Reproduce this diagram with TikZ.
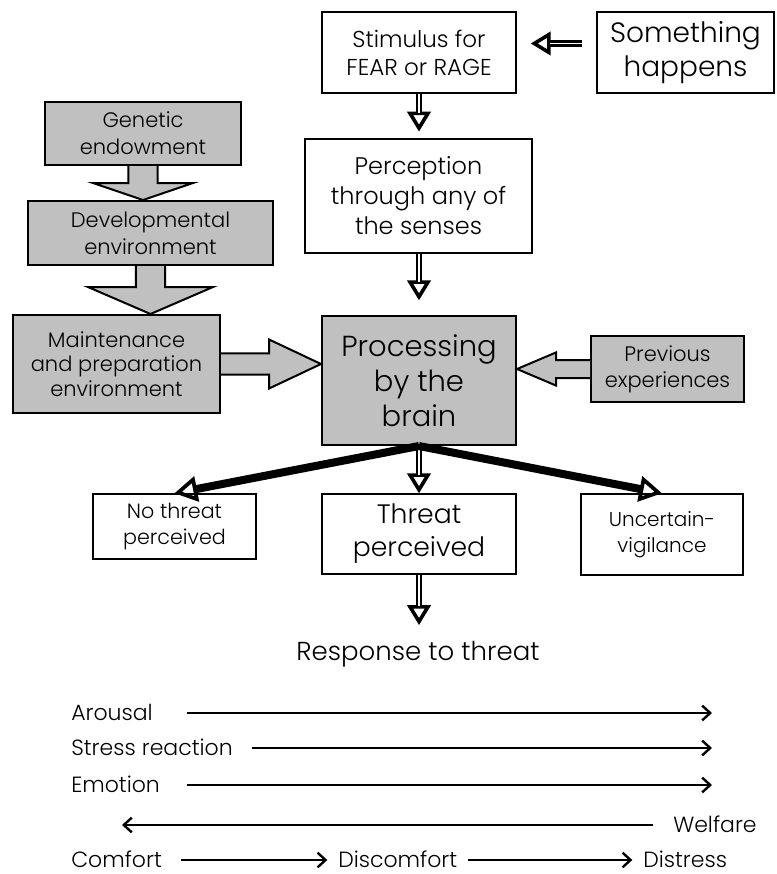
\documentclass[tikz,border=0pt]{standalone}
\usepackage{fontspec}
\IfFontExistsTF{Poppins Light}{\setmainfont{Poppins Light}}{\setmainfont{Poppins}}
\usetikzlibrary{arrows.meta,calc}
\definecolor{silver}{RGB}{192,192,192}

% gray block arrow pointing down: from, to, shaft half width, head half width, head length (pt)
\newcommand\blockv[5]{%
  \filldraw[blockarrow] let \p1=(#1), \p2=(#2) in
    ({\x1-#3pt},\y1) -- ({\x1-#3pt},{\y2+#5pt}) -- ({\x1-#4pt},{\y2+#5pt}) -- (\x2,\y2)
    -- ({\x1+#4pt},{\y2+#5pt}) -- ({\x1+#3pt},{\y2+#5pt}) -- ({\x1+#3pt},\y1);}
% gray block arrow, horizontal: last argument is the signed offset of the head base from the tip
\newcommand\blockh[5]{%
  \filldraw[blockarrow] let \p1=(#1), \p2=(#2), \n1={#5} in
    (\x1,{\y1+#3pt}) -- ({\x2+\n1*1pt},{\y1+#3pt}) -- ({\x2+\n1*1pt},{\y1+#4pt}) -- (\x2,\y2)
    -- ({\x2+\n1*1pt},{\y1-#4pt}) -- ({\x2+\n1*1pt},{\y1-#3pt}) -- (\x1,{\y1-#3pt});}

\tikzset{
  box/.style={draw, line width=1.1pt, fill=white, align=center, inner sep=0pt},
  graybox/.style={box, fill=silver, line width=1.5pt},
  fs/.style 2 args={font=\fontsize{#1pt}{#2pt}\selectfont},
  blockarrow/.style={fill=silver, draw=black, line width=1.5pt, line join=miter},
  hollowhead/.style={line width=2.2pt, -{Triangle[open, length=15pt, width=17.5pt, line width=2.7pt]}},
  hollowshaft/.style={line width=2.1pt, double=white, double distance=0.9pt},
  thickarrow/.style={line width=6pt, -{Triangle[open, length=17pt, width=19pt, line width=2.8pt]}},
  scalearrow/.style={line width=1.6pt, -{Straight Barb[length=6pt, width=11pt, line width=1.8pt]}},
  lbl/.style={fs={16.5}{20}, inner sep=0pt, text height=11.8pt, text depth=0pt},
}

\begin{document}
\begin{tikzpicture}[x=0.75pt, y=-0.75pt]
\useasboundingbox (0,0) rectangle (776,874);

% ---- boxes of the flow chart
\node[box, fs={17.25}{21}, minimum width=145.5pt, minimum height=60.75pt] (stim) at (419,52.5) {Stimulus for\\FEAR or RAGE};
\node[box, fs={21}{26}, minimum width=132.75pt, minimum height=60.75pt] (some) at (685.5,52.5) {Something\\happens};
\node[box, fs={18}{22.5}, minimum width=170.25pt, minimum height=85.5pt] (perc) at (418.5,196) {Perception\\through any of\\the senses};
\node[graybox, fs={21.75}{26.25}, minimum width=145.5pt, minimum height=96.75pt] (proc) at (419,380.5) {Processing\\by the\\brain};
\node[graybox, fs={15.75}{19.5}, minimum width=114.75pt, minimum height=49.5pt] (prev) at (667.5,369) {Previous\\experiences};
\node[graybox, fs={15.75}{20}, minimum width=147pt, minimum height=47.25pt] (gen) at (143,133.5) {Genetic\\endowment};
\node[graybox, fs={15.75}{20}, minimum width=183.75pt, minimum height=48pt] (dev) at (150.5,233) {Developmental\\environment};
\node[graybox, fs={15.75}{18.5}, minimum width=155.25pt, minimum height=73.5pt] (maint) at (116.5,364) {Maintenance\\and preparation\\environment};
\node[box, fs={15.5}{19}, minimum width=122.25pt, minimum height=48.75pt] (nothr) at (174.5,526.5) {No threat\\perceived};
\node[box, fs={20}{24.75}, minimum width=145.5pt, minimum height=60pt] (thr) at (419,534) {Threat\\perceived};
\node[box, fs={15}{20}, minimum width=121.5pt, minimum height=60.75pt] (unc) at (662,534.5) {Uncertain-\\vigilance};
\node[fs={19.5}{24}, inner sep=0pt, text height=15pt, anchor=base] (resp) at (418,660) {Response to threat};

% ---- gray block arrows
\blockv{gen.south}{gen.south |- dev.north}{10.9}{37.5}{12.75}
\blockv{dev.south}{dev.south |- maint.north}{10.9}{46.9}{20.25}
\blockh{maint.east}{maint.east -| proc.west}{7.9}{18.4}{-39}
\blockh{prev.west}{prev.west -| proc.east}{6.75}{12.4}{29.25}

% ---- hollow arrows with a double shaft
\draw[hollowhead, shorten <=10.5pt, shorten >=10.5pt] ([yshift=6.75pt]some.west) -- ([yshift=6.75pt]stim.east);
\draw[hollowshaft, shorten <=10.5pt, shorten >=25pt] ([yshift=6.75pt]some.west) -- ([yshift=6.75pt]stim.east);

\draw[hollowhead, shorten >=5pt] (stim.south) -- (stim.south |- perc.north);
\draw[hollowshaft, shorten >=19pt] (stim.south) -- (stim.south |- perc.north);

\draw[hollowhead, shorten >=11pt] (stim.south |- perc.south) -- (stim.south |- proc.north);
\draw[hollowshaft, shorten >=25pt] (stim.south |- perc.south) -- (stim.south |- proc.north);

\draw[hollowhead] (proc.south) -- (thr.north);
\draw[hollowshaft, shorten >=14pt] (proc.south) -- (thr.north);

\draw[hollowhead, shorten >=11pt] (thr.south) -- (thr.south |- resp.north);
\draw[hollowshaft, shorten >=25pt] (thr.south) -- (thr.south |- resp.north);

% ---- heavy arrows to the side outcomes
\draw[thickarrow] (proc.south) -- (nothr.north);
\draw[thickarrow] (proc.south) -- (unc.north);

% ---- response scales
\coordinate (scaleL) at (187,0);
\coordinate (scaleR) at (712,0);
\coordinate (wtip) at (122,825);

\node[lbl, anchor=west] (arousal) at (71,713) {Arousal};
\node[lbl, anchor=west] (stress) at (71,748) {Stress reaction};
\node[lbl, anchor=west] (emotion) at (71,785) {Emotion};
\node[lbl, anchor=west] (welfare) at (673,825) {Welfare};
\node[lbl, anchor=west] (comfort) at (71,860) {Comfort};
\node[lbl, anchor=west] (discomfort) at (338,860) {Discomfort};
\node[lbl, anchor=west] (distress) at (643,860) {Distress};

\draw[scalearrow] (arousal.east -| scaleL) -- (arousal.east -| scaleR);
\draw[scalearrow, shorten <=14pt] (stress.east) -- (stress.east -| scaleR);
\draw[scalearrow] (emotion.east -| scaleL) -- (emotion.east -| scaleR);
\draw[scalearrow, shorten <=15pt] (welfare.west) -- (welfare.west -| wtip);
\draw[scalearrow, shorten <=14pt, shorten >=8pt] (comfort.east) -- (discomfort.west);
\draw[scalearrow, shorten <=8pt, shorten >=8pt] (discomfort.east) -- (distress.west);
\end{tikzpicture}
\end{document}
